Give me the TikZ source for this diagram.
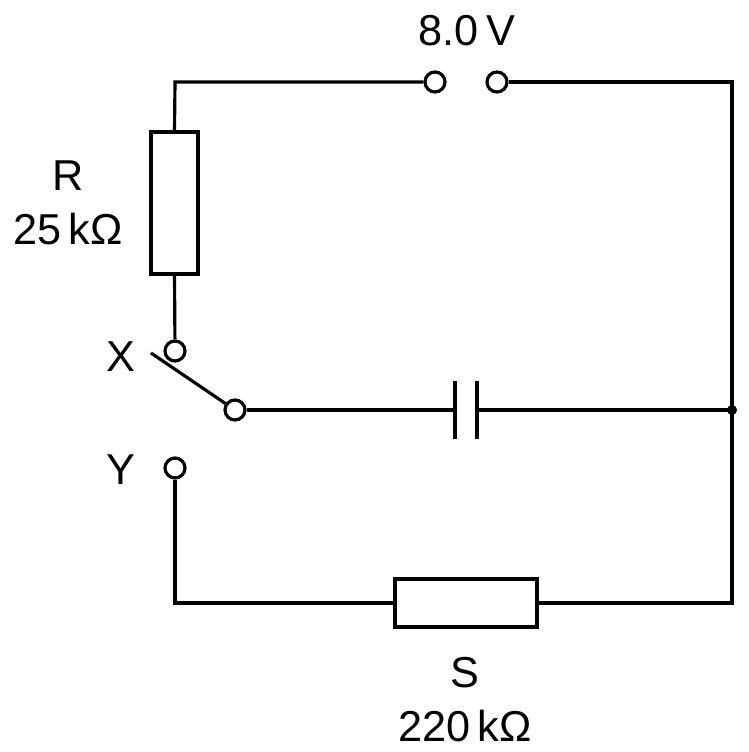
\documentclass[tikz,border=0pt]{standalone}
\usepackage{fontspec}
\setmainfont{Liberation Sans}
\begin{document}
\begin{tikzpicture}[x=0.01cm,y=-0.01cm,line width=0.9pt,
  term/.style={circle,draw,fill=white,inner sep=0pt,minimum size=0.2cm},
  res/.style={draw,fill=white,inner sep=0pt},
  lbl/.style={font=\fontsize{12.3}{14}\selectfont,inner sep=0pt}]
\useasboundingbox (0,0) rectangle (748,752);
\coordinate (tl) at (175,82);
\coordinate (tr) at (732,82);
\coordinate (br) at (732,603);
\coordinate (bl) at (175,603);
\coordinate (j) at (732,410);
\node[term] (t1) at (435,82) {};
\node[term] (t2) at (497,82) {};
\node[res,minimum width=0.47cm,minimum height=1.42cm] (R) at (174.5,203) {};
\node[term] (X) at (175,351) {};
\node[term] (C) at (235,410) {};
\node[term] (Y) at (175,468) {};
\node[res,minimum width=1.42cm,minimum height=0.48cm] (S) at (466,603) {};
\coordinate (p1) at (455,410);
\coordinate (p2) at (477,410);
\draw (t1) -- (tl) -- (R.north);
\draw (R.south) -- (X);
\draw (t2) -- (tr) -- (br) -- (S.east);
\draw (S.west) -- (bl) -- (Y);
\draw (C) -- (p1);
\draw (p2) -- (j);
\draw ([yshift=0.29cm]p1) -- ([yshift=-0.29cm]p1);
\draw ([yshift=0.29cm]p2) -- ([yshift=-0.29cm]p2);
\draw (151,353) -- (C);
\fill (j) circle (0.05cm);
\node[lbl] at (467,31) {8.0\,V};
\node[lbl] at (68,176) {R};
\node[lbl] at (68,229) {25\,kΩ};
\node[lbl] at (121,357) {X};
\node[lbl] at (121,470) {Y};
\node[lbl] at (465,673) {S};
\node[lbl] at (465,726) {220\,kΩ};
\end{tikzpicture}
\end{document}
